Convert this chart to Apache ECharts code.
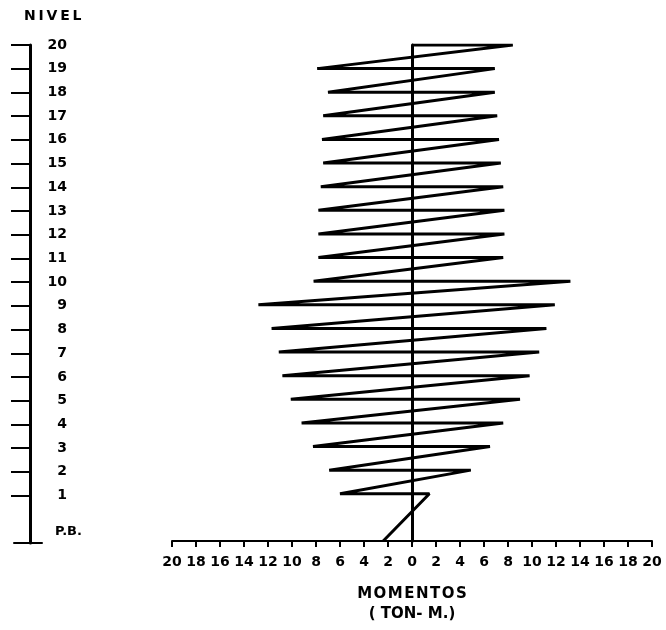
<!DOCTYPE html>
<html>
<head>
<meta charset="utf-8">
<script src="https://cdn.jsdelivr.net/npm/echarts@6/dist/echarts.min.js"></script>
<style>
  html, body { margin: 0; padding: 0; background: #fff; }
  #chart { width: 666px; height: 630px; }
</style>
</head>
<body>
<div id="chart"></div>
<script>
// levels 20 .. 1, P.B. drawn at -1
var levels = [20, 19, 18, 17, 16, 15, 14, 13, 12, 11, 10, 9, 8, 7, 6, 5, 4, 3, 2, 1];
// moment at the left end of each floor jump (ton-m), level 20 starts at 0
var leftMoments = [0, -7.9, -7.0, -7.4, -7.5, -7.4, -7.6, -7.8, -7.8, -7.8, -8.2, -12.8, -11.7, -11.1, -10.8, -10.1, -9.2, -8.25, -6.9, -6.0];
// moment at the right end of each floor jump (ton-m)
var rightMoments = [8.4, 6.9, 6.9, 7.1, 7.25, 7.4, 7.6, 7.7, 7.7, 7.6, 13.2, 11.9, 11.2, 10.6, 9.8, 9.0, 7.6, 6.5, 4.9, 1.45];
var baseLevel = -1;
var baseMoment = -2.4;
var levelTicks = [20, 19, 18, 17, 16, 15, 14, 13, 12, 11, 10, 9, 8, 7, 6, 5, 4, 3, 2, 1];

var zigzag = [];
levels.forEach(function (lv, i) {
  zigzag.push([leftMoments[i], lv]);
  zigzag.push([rightMoments[i], lv]);
});
zigzag.push([baseMoment, baseLevel]);

var font = 'DejaVu Sans';

var option = {
  backgroundColor: '#fff',
  animation: false,
  grid: [
    { left: 14, width: 28, top: 45, bottom: 87 },
    { left: 172, right: 14, top: 45, bottom: 89 }
  ],
  xAxis: [
    {
      gridIndex: 0, type: 'value', min: 0, max: 1,
      axisLine: { show: true, onZero: false, lineStyle: { color: '#000', width: 2 } },
      axisTick: { show: false }, axisLabel: { show: false }, splitLine: { show: false }
    },
    {
      gridIndex: 1, type: 'value', min: -20, max: 20, interval: 2,
      name: 'M\u200aO\u200aM\u200aE\u200aN\u200aT\u200aO\u200aS\n( TON- M.)', nameLocation: 'middle', nameGap: 43,
      nameTextStyle: { fontFamily: font, fontWeight: 'bold', fontSize: 15, color: '#000', lineHeight: 20 },
      axisLine: { show: true, onZero: false, lineStyle: { color: '#000', width: 2 } },
      axisTick: { show: true, inside: false, length: 6, lineStyle: { color: '#000', width: 2 } },
      axisLabel: {
        margin: 14, color: '#000', fontFamily: font, fontWeight: 'bold', fontSize: 14,
        formatter: function (v) { return String(Math.abs(v)); }
      },
      splitLine: { show: false }
    }
  ],
  yAxis: [
    {
      gridIndex: 0, type: 'value', min: -1, max: 20, interval: 1, offset: -16,
      name: 'N\u2009I\u2009V\u2009E\u2009L', nameLocation: 'end', nameGap: 22,
      nameTextStyle: { fontFamily: font, fontWeight: 'bold', fontSize: 14, color: '#000', align: 'left', padding: [0, 0, 0, -6] },
      axisLine: { show: true, onZero: false, lineStyle: { color: '#000', width: 3 } },
      axisTick: { show: true, inside: false, length: 19, customValues: levelTicks, lineStyle: { color: '#000', width: 2 } },
      axisLabel: {
        inside: true, margin: 15, align: 'left',
        customValues: [-1].concat(levelTicks),
        color: '#000', fontFamily: font, fontWeight: 'bold', fontSize: 14,
        formatter: function (v) { return v === -1 ? '{p|P.B.}' : '{n|' + v + '}'; },
        rich: {
          n: { width: 22, align: 'right', fontFamily: font, fontWeight: 'bold', fontSize: 14, color: '#000' },
          p: { padding: [0, 0, 22, 10], fontFamily: font, fontWeight: 'bold', fontSize: 13, color: '#000' }
        }
      },
      splitLine: { show: false }
    },
    {
      gridIndex: 1, type: 'value', min: -1, max: 20, interval: 1,
      axisLine: { show: true, onZero: true, lineStyle: { color: '#000', width: 3 } },
      axisTick: { show: false }, axisLabel: { show: false }, splitLine: { show: false }
    }
  ],
  series: [
    {
      type: 'line', xAxisIndex: 1, yAxisIndex: 1,
      data: zigzag, symbol: 'none',
      lineStyle: { color: '#000', width: 3 }
    }
  ]
};

var myChart = echarts.init(document.getElementById('chart'), null, { renderer: 'canvas' });
myChart.setOption(option);
</script>
</body>
</html>
